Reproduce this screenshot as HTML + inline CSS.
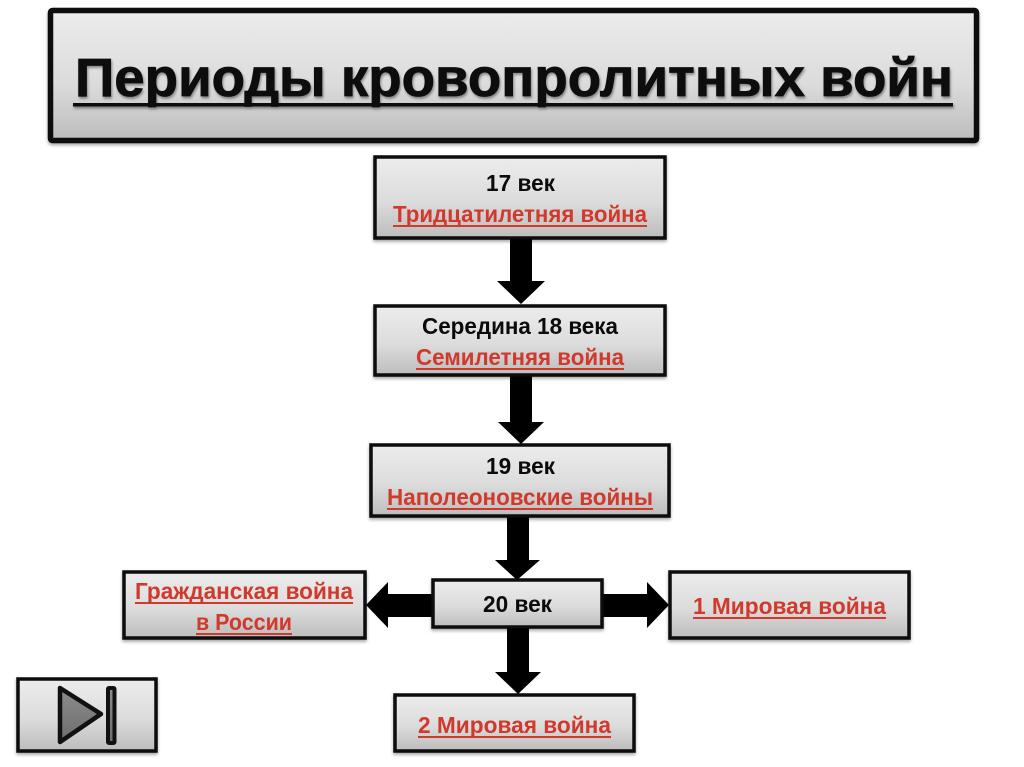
<!DOCTYPE html>
<html>
<head>
<meta charset="utf-8">
<style>
html,body{margin:0;padding:0;background:#fff;width:1024px;height:767px;overflow:hidden}
svg{display:block}
text{font-family:"Liberation Sans",sans-serif;font-weight:bold;fill:#0b0b0b}
.r{fill:#d0392b}
.t{font-size:23px}
.b{stroke:#0a0a0a;fill:url(#g)}
.bs{filter:url(#s)}
</style>
</head>
<body>
<svg width="1024" height="767" viewBox="0 0 1024 767" xmlns="http://www.w3.org/2000/svg">
<defs>
<linearGradient id="g" x1="0" y1="0" x2="0" y2="1">
<stop offset="0" stop-color="#ececec"/>
<stop offset="0.55" stop-color="#dcdcdc"/>
<stop offset="1" stop-color="#bcbcbc"/>
</linearGradient>
<linearGradient id="ic" x1="0" y1="0" x2="0" y2="1">
<stop offset="0" stop-color="#8c8c8c"/>
<stop offset="1" stop-color="#6e6e6e"/>
</linearGradient>
<filter id="s" x="-5%" y="-10%" width="110%" height="125%">
<feDropShadow dx="0" dy="2" stdDeviation="1.5" flood-color="#000" flood-opacity="0.35"/>
</filter>
<filter id="ts" x="-2%" y="-10%" width="104%" height="125%">
<feDropShadow dx="1" dy="2" stdDeviation="1.2" flood-color="#000" flood-opacity="0.4"/>
</filter>
</defs>

<!-- arrows -->
<g fill="#000">
<polygon points="510,238 532,238 532,281 545,281 521,304 497,281 510,281"/>
<polygon points="510,375 532,375 532,422 544,422 521,444 498,422 510,422"/>
<polygon points="507,516 529,516 529,560 540,560 517,580 495,560 507,560"/>
<polygon points="507,627 529,627 529,672 541,672 518,694 495,672 507,672"/>
<polygon points="602,594 647,594 647,582 669,605 647,628 647,617 602,617"/>
<polygon points="434,594 388,594 388,582 366,605 388,628 388,617 434,617"/>
</g>

<!-- boxes -->
<g class="bs">
<rect class="b" x="50.5" y="10.5" width="926" height="130" rx="2" stroke-width="5.5"/>
</g>
<g class="bs">
<rect class="b" x="375" y="157" width="290" height="81" stroke-width="3.5"/>
<rect class="b" x="375" y="306" width="290" height="69" stroke-width="3.5"/>
<rect class="b" x="371" y="445" width="298" height="71" stroke-width="3.5"/>
<rect class="b" x="433" y="580" width="169" height="47" stroke-width="3.5"/>
<rect class="b" x="124" y="572" width="241" height="66" stroke-width="3.5"/>
<rect class="b" x="670" y="572" width="239" height="66" stroke-width="3.5"/>
<rect class="b" x="395" y="695" width="239" height="56" stroke-width="3.5"/>
<rect class="b" x="18" y="679" width="138" height="72" stroke-width="3.5"/>
</g>

<!-- title -->
<g filter="url(#ts)">
<text x="75" y="96" font-size="54" textLength="878" lengthAdjust="spacingAndGlyphs" stroke="#0b0b0b" stroke-width="0.8">Периоды кровопролитных войн</text>
<rect x="73" y="103" width="880" height="3.5" fill="#0b0b0b"/>
</g>

<!-- labels -->
<text class="t" x="486" y="191" textLength="69" lengthAdjust="spacingAndGlyphs">17 век</text>
<text class="t r" x="393" y="222" textLength="254" lengthAdjust="spacingAndGlyphs">Тридцатилетняя война</text>
<rect class="r" x="393" y="225" width="254" height="2"/>

<text class="t" x="422" y="334" textLength="196" lengthAdjust="spacingAndGlyphs">Середина 18 века</text>
<text class="t r" x="416" y="365" textLength="208" lengthAdjust="spacingAndGlyphs">Семилетняя война</text>
<rect class="r" x="416" y="368" width="208" height="2"/>

<text class="t" x="486" y="474" textLength="69" lengthAdjust="spacingAndGlyphs">19 век</text>
<text class="t r" x="387" y="505" textLength="266" lengthAdjust="spacingAndGlyphs">Наполеоновские войны</text>
<rect class="r" x="387" y="508" width="266" height="2"/>

<text class="t" x="483" y="612" textLength="69" lengthAdjust="spacingAndGlyphs">20 век</text>

<text class="t r" x="135" y="599" textLength="218" lengthAdjust="spacingAndGlyphs">Гражданская война</text>
<rect class="r" x="135" y="602" width="218" height="2"/>
<text class="t r" x="196" y="630" textLength="96" lengthAdjust="spacingAndGlyphs">в России</text>
<rect class="r" x="196" y="633" width="96" height="2"/>

<text class="t r" x="693" y="614" textLength="193" lengthAdjust="spacingAndGlyphs">1 Мировая война</text>
<rect class="r" x="693" y="617" width="193" height="2"/>

<text class="t r" x="418" y="733" textLength="193" lengthAdjust="spacingAndGlyphs">2 Мировая война</text>
<rect class="r" x="418" y="736" width="193" height="2"/>

<!-- button icon -->
<polygon points="60,688 101,714 60,742" fill="url(#ic)" stroke="#111" stroke-width="4.5" stroke-linejoin="round"/>
<rect x="108" y="688" width="6.5" height="55" fill="url(#ic)" stroke="#111" stroke-width="4" rx="1"/>
</svg>
</body>
</html>
